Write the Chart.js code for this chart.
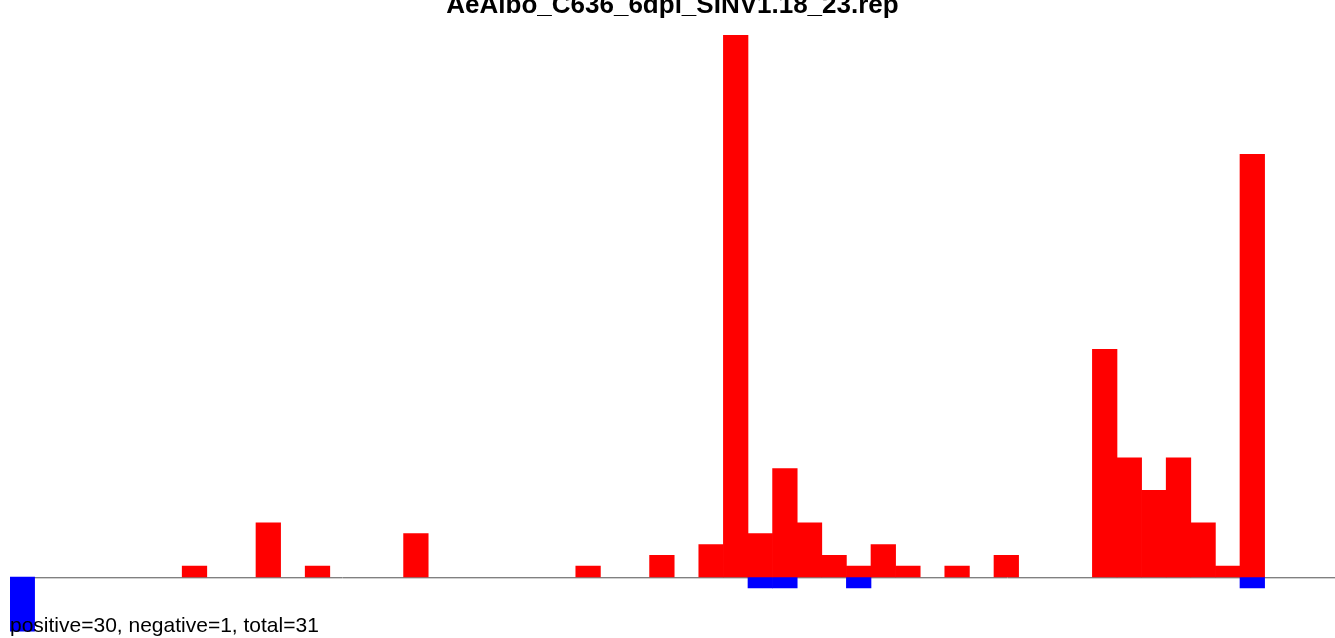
<!DOCTYPE html>
<html>
<head>
<meta charset="utf-8">
<script src="https://cdn.jsdelivr.net/npm/chart.js@4.4.0/dist/chart.umd.min.js"></script>
<style>
    html, body { margin: 0; padding: 0; background: #fff; overflow: hidden; width: 1335px; height: 638px; }
    #wrap { position: absolute; left: 0; top: 0; width: 1340px; height: 638px; }
    .title { position: absolute; left: 0; width: 1345px; top: -9px; line-height: 26px; text-align: center; font-family: "Liberation Sans", Arial, sans-serif; font-weight: bold; font-size: 26px; color: #000; white-space: nowrap; }
    .foot { position: absolute; left: 10px; top: 614px; line-height: 21px; font-family: "Liberation Sans", Arial, sans-serif; font-size: 21px; color: #000; white-space: nowrap; }
</style>
</head>
<body>
<div id="wrap"><canvas id="repChart" width="1340" height="638"></canvas></div>
<div class="title" id="chartTitle"></div>
<div class="foot" id="chartFoot"></div>
<script>
// --- DADOS ---
const chartTitle = 'AeAlbo_C636_6dpi_SINV1.18_23.rep';
const footText = 'positive=30, negative=1, total=31';
const binCount = 54;
// bins com valor (índice -> altura)
const posBins = [7, 10, 12, 16, 23, 26, 28, 29, 30, 31, 32, 33, 34, 35, 36, 38, 40, 44, 45, 46, 47, 48, 49, 50];
const posVals = [1, 5, 1, 4, 1, 2, 3, 50, 4, 10, 5, 2, 1, 3, 1, 1, 2, 21, 11, 8, 11, 5, 1, 39];
const negBins = [0, 30, 31, 34, 50];
const negVals = [-5, -1, -1, -1, -1];

const labels = [];
const positive = [];
const negative = [];
for (let i = 0; i < binCount; i++) {
    labels.push(String(i));
    positive.push(null);
    negative.push(null);
}
posBins.forEach((b, k) => positive[b] = posVals[k]);
negBins.forEach((b, k) => negative[b] = negVals[k]);

document.getElementById('chartTitle').innerText = chartTitle;
document.getElementById('chartFoot').innerText = footText;

// linha base no zero
const zeroLine = {
    id: 'zeroLine',
    beforeDatasetsDraw(chart) {
        const y = Math.round(chart.scales.y.getPixelForValue(0));
        const ctx = chart.ctx;
        ctx.save();
        ctx.strokeStyle = '#d0d0d0';
        ctx.lineWidth = 1;
        ctx.beginPath(); ctx.moveTo(chart.chartArea.left, y + 1.5); ctx.lineTo(chart.width, y + 1.5); ctx.stroke();
        ctx.strokeStyle = '#808080';
        ctx.lineWidth = 1;
        ctx.beginPath(); ctx.moveTo(chart.chartArea.left, y + 0.5); ctx.lineTo(chart.width, y + 0.5); ctx.stroke();
        ctx.restore();
    }
};

const ctx = document.getElementById('repChart').getContext('2d');
new Chart(ctx, {
    type: 'bar',
    data: {
        labels: labels,
        datasets: [
            { label: 'positive', data: positive, backgroundColor: '#ff0000', borderWidth: 0, categoryPercentage: 1, barPercentage: 1 },
            { label: 'negative', data: negative, backgroundColor: '#0000ff', borderWidth: 0, categoryPercentage: 1, barPercentage: 1 }
        ]
    },
    options: {
        responsive: false, animation: false, maintainAspectRatio: false,
        layout: { padding: { left: 10, right: 1.6, top: 35, bottom: 0 } },
        plugins: { legend: { display: false }, tooltip: { enabled: false }, title: { display: false } },
        scales: {
            x: { stacked: true, display: false, grid: { display: false } },
            y: { stacked: true, display: false, min: -5.63, max: 50, grid: { display: false } }
        }
    },
    plugins: [zeroLine]
});
</script>
</body>
</html>
